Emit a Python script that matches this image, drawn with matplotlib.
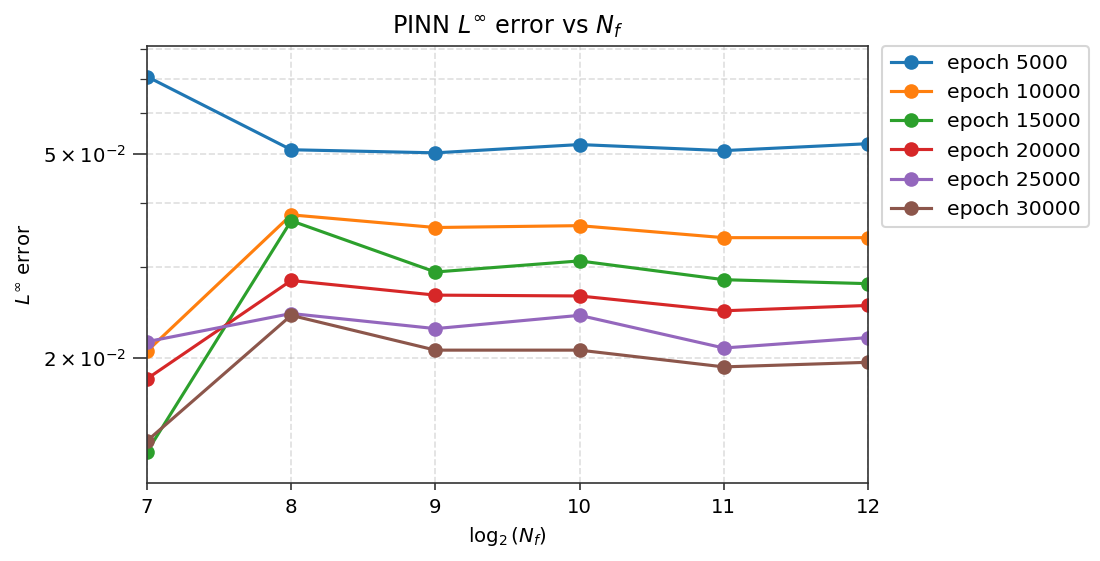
import matplotlib
matplotlib.use("Agg")
import matplotlib.pyplot as plt
from matplotlib.ticker import FixedLocator, FuncFormatter, NullFormatter
import numpy as np

log2_nf = [7, 8, 9, 10, 11, 12]
epochs = [5000, 10000, 15000, 20000, 25000, 30000]
err_5000 = [7.07e-2, 5.09e-2, 5.02e-2, 5.21e-2, 5.07e-2, 5.23e-2]
err_10000 = [2.06e-2, 3.80e-2, 3.59e-2, 3.62e-2, 3.43e-2, 3.43e-2]
err_15000 = [1.311e-2, 3.70e-2, 2.94e-2, 3.09e-2, 2.84e-2, 2.79e-2]
err_20000 = [1.82e-2, 2.83e-2, 2.65e-2, 2.64e-2, 2.47e-2, 2.53e-2]
err_25000 = [2.15e-2, 2.44e-2, 2.28e-2, 2.42e-2, 2.09e-2, 2.19e-2]
err_30000 = [1.377e-2, 2.42e-2, 2.07e-2, 2.07e-2, 1.92e-2, 1.96e-2]
series = [err_5000, err_10000, err_15000, err_20000, err_25000, err_30000]
y_major = [2e-2, 5e-2]
y_minor = [3e-2, 4e-2, 6e-2, 7e-2, 8e-2]


def sci_fmt(v, pos):
    exp = int(np.floor(np.log10(v)))
    coef = int(round(v / 10 ** exp))
    return r'$\mathdefault{%d\times10^{%d}}$' % (coef, exp)


spine_col = '#333333'
fig = plt.figure(figsize=(1100/150, 561/150), dpi=150)
ax = fig.add_axes([147/1100, 1 - 483/561, (868-147)/1100, (483-46)/561])
for ep, vals in zip(epochs, series):
    ax.plot(log2_nf, vals, marker='o', label=f"epoch {ep}")
ax.set_yscale('log')
ax.set_xlim(7, 12)
ax.set_ylim(1.14e-2, 8.11e-2)
ax.yaxis.set_major_locator(FixedLocator(y_major))
ax.yaxis.set_major_formatter(FuncFormatter(sci_fmt))
ax.yaxis.set_minor_locator(FixedLocator(y_minor))
ax.yaxis.set_minor_formatter(NullFormatter())
ax.grid(True, which='both', linestyle='--', alpha=0.4)
for s in ax.spines.values():
    s.set_color(spine_col)
ax.tick_params(axis='both', which='both', colors=spine_col, labelcolor='black', labelsize=9.5)
ax.tick_params(axis='y', which='major', length=6.5)
ax.tick_params(axis='y', which='minor', length=3.5)
ax.set_xlabel(r"$\log_2(N_f)$", fontsize=9.5)
ax.set_ylabel(r"$L^\infty$ error", fontsize=9.5)
ax.set_title(r"PINN $L^\infty$ error vs $N_f$", fontsize=11.5)
ax.legend(loc='upper left', bbox_to_anchor=(1.02, 1.0), borderaxespad=0, fontsize=9.75)
fig.savefig("out.png", dpi=150)
